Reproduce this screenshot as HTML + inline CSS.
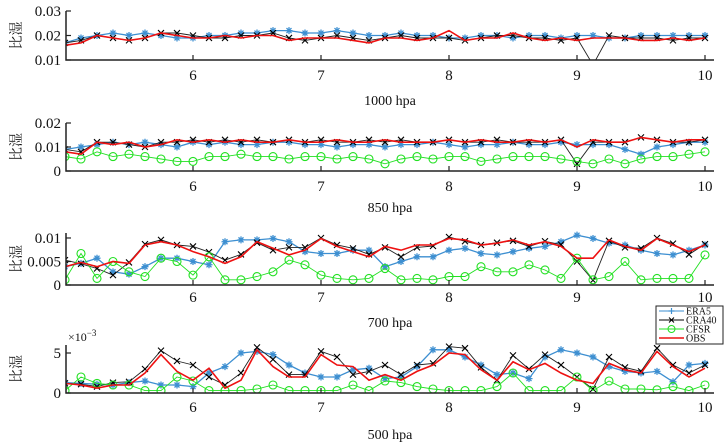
<!DOCTYPE html>
<html><head><meta charset="utf-8">
<style>
html,body{margin:0;padding:0;background:#fff;}
svg{display:block;font-family:"Liberation Serif","Noto Serif CJK SC",serif;}
</style></head>
<body>
<svg id="chart" width="728" height="443" viewBox="0 0 728 443" xmlns="http://www.w3.org/2000/svg"></svg>
<script>
// time axis values (day), 8 samples per unit
const times = [];
for (let i = 0; i <= 40; i++) times.push(5 + i * 0.125);
const xTicks = [6, 7, 8, 9, 10];
const seriesNames = ["ERA5", "CRA40", "CFSR", "OBS"];
const panelTitles = ["1000 hpa", "850 hpa", "700 hpa", "500 hpa"];

// values in units of 1e-3
const era5_1000 = [17,19,20,21,20,21,20,19,19,20,20,21,21,22,22,21,21,22,21,20,20,21,20,20,19,19,20,20,19,20,20,19,20,20,19,19,20,20,20,20,20];
const cra40_1000 = [17,18,20,19,18,19,21,21,20,19,19,20,20,21,19,18,19,20,19,18,19,20,19,19,19,18,19,20,20,19,19,18,19,8,20,19,19,19,18,19,19];
const obs_1000 = [16,17,20,19,18,19,21,20,19,19,20,19,20,20,18,19,19,19,18,17,19,19,18,19,22,18,19,19,21,19,18,19,18,19,19,19,18,18,19,18,19];

const era5_850 = [9,10,11,12,11,12,11,10,12,11,12,11,11,12,12,11,11,10,11,11,10,11,11,12,11,10,11,11,12,11,11,12,11,11,11,9,7,10,11,12,12];
const cra40_850 = [9,8,12,12,11,10,12,12,13,12,13,12,13,12,13,12,13,12,12,13,12,13,12,12,13,12,12,13,12,12,12,13,3,12,12,12,14,13,12,12,13];
const cfsr_850 = [6,5,8,6,7,6,5,4,4,6,6,7,6,6,5,6,6,5,6,5,3,5,6,5,6,6,4,5,6,6,6,5,4,3,5,3,5,6,6,7,8];
const obs_850 = [8,7,12,11,12,10,11,13,12,13,12,13,12,12,13,12,12,13,12,12,13,12,12,12,13,12,13,12,12,13,12,13,10,13,12,12,14,13,12,13,13];

const era5_700 = [3.9,4.6,5.7,2.8,2.3,3.9,5.7,5.7,5.0,4.3,9.2,9.6,9.6,9.9,9.2,7.1,6.7,6.7,7.4,7.4,3.9,5.0,6.0,6.0,7.4,7.8,6.7,6.4,7.1,7.8,8.2,9.2,10.6,9.9,8.9,8.5,7.4,6.7,6.4,7.4,8.5];
const cra40_700 = [5.3,4.5,3.5,2.1,4.8,8.7,9.6,8.5,8.2,7.0,5.3,6.5,9.0,7.4,8.0,8.0,10.0,8.5,7.8,6.5,8.0,6.0,8.0,8.3,10.2,9.3,8.5,9.0,9.4,8.2,9.3,8.6,5.0,1.0,9.4,8.0,7.8,10.0,8.8,6.5,8.7];
const cfsr_700 = [1.1,6.7,1.4,5.0,2.8,1.8,5.7,5.0,2.1,6.0,1.1,1.1,1.8,2.8,5.3,4.3,2.1,1.4,1.1,1.4,3.5,1.1,1.4,1.1,1.8,1.8,3.9,2.8,2.8,4.3,3.2,1.4,5.7,1.1,1.8,5.0,1.1,1.4,1.4,1.4,6.4];
const obs_700 = [3.9,4.8,3.9,5.0,4.6,8.5,9.2,8.5,7.1,6.0,4.6,6.0,9.2,7.8,6.4,7.4,9.9,8.2,7.1,6.0,8.2,7.4,8.5,8.5,9.9,9.6,8.5,8.9,9.6,8.5,9.2,8.2,5.7,5.7,9.6,8.2,7.4,9.9,8.5,7.1,8.5];

const era5_500 = [1.3,1.2,1.1,1.0,1.3,1.5,1.0,1.0,0.8,2.5,3.3,5.0,5.2,4.8,3.5,2.5,2.0,2.0,2.9,3.1,1.8,2.0,3.3,5.4,5.4,4.5,3.5,2.3,2.5,1.8,4.5,5.4,5.0,4.5,3.3,2.7,2.5,2.7,1.4,3.5,3.7];
const cra40_500 = [1.2,1.1,0.8,1.3,1.4,3.0,5.3,4.0,3.5,2.0,1.0,2.5,5.7,4.2,2.3,2.3,5.2,4.5,2.3,2.7,3.5,2.3,3.5,3.7,5.8,5.6,3.2,1.6,4.7,3.0,4.8,3.5,2.0,0.5,4.5,3.2,2.7,5.6,3.5,2.5,3.5];
const cfsr_500 = [0.3,2.0,1.2,1.0,1.0,0.3,0.3,2.0,1.5,0.3,0.3,0.3,0.5,1.0,0.3,0.3,0.3,0.3,1.0,0.3,1.5,1.3,0.8,0.5,0.3,0.3,0.3,0.8,2.5,0.3,0.3,0.3,2.0,0.3,1.5,0.5,0.5,0.4,0.8,0.3,1.0];
const obs_500 = [1.2,1.0,0.6,1.0,1.0,2.5,4.8,2.7,1.6,3.1,0.6,1.6,5.4,3.3,2.0,2.0,4.8,3.5,3.3,1.6,2.3,1.6,2.7,3.5,5.0,4.8,2.9,1.6,3.9,2.9,3.7,2.5,1.6,1.2,3.7,2.9,2.5,5.2,3.3,2.0,3.1];

const ticks1000 = ["0.01","0.02","0.03"], tickVals1000 = [10,20,30];
const ticks850 = ["0","0.01","0.02"], tickVals850 = [0,10,20];
const ticks700 = ["0","0.005","0.01"], tickVals700 = [0,5,10];
const ticks500 = ["0","5"], tickVals500 = [0,5];

const NS = "http://www.w3.org/2000/svg";
const svg = document.getElementById("chart");
function mk(tag, attrs, parent) {
  const e = document.createElementNS(NS, tag);
  for (const k in attrs) e.setAttribute(k, attrs[k]);
  (parent || svg).appendChild(e);
  return e;
}
const X0 = 66, X1 = 714;
function xs(t) { return 65 + (t - 5) * 128; }

const panels = [
  {top:11, vmin:10, vmax:30, bot:60, ticks:ticks1000, tv:tickVals1000, tickLab:75, title:100, era:era5_1000, cra:cra40_1000, cfsr:null, obs:obs_1000},
  {top:123, vmin:0, vmax:20, bot:171, ticks:ticks850, tv:tickVals850, tickLab:186, title:207, era:era5_850, cra:cra40_850, cfsr:cfsr_850, obs:obs_850},
  {top:233, vmin:0, vmax:11.06, bot:285, ticks:ticks700, tv:tickVals700, tickLab:297, title:322, era:era5_700, cra:cra40_700, cfsr:cfsr_700, obs:obs_700},
  {top:345, vmin:0, vmax:6, bot:393, ticks:ticks500, tv:tickVals500, tickLab:407, title:434, era:era5_500, cra:cra40_500, cfsr:cfsr_500, obs:obs_500}
];

panels.forEach((p, pi) => {
  const g = mk("g", {});
  
  
  const ys = v => p.bot - (v - p.vmin) / (p.vmax - p.vmin) * (p.bot - p.top);
  const clip = mk("clipPath", {id: "c" + pi}, g);
  mk("rect", {x: X0, y: p.top - 6, width: X1 - X0, height: p.bot - p.top + 6}, clip);
  const data = mk("g", {"clip-path": "url(#c" + pi + ")"}, g);
  function pts(arr) { return arr.map((v, i) => xs(times[i]).toFixed(1) + "," + ys(v).toFixed(1)).join(" "); }
  // ERA5
  const era = mk("polyline", {points: pts(p.era), fill: "none", stroke: "#3d8fd1", "stroke-width": 1.3}, data);
  
  
  p.era.forEach((v, i) => {
    const x = xs(times[i]), y = ys(v);
    const m = mk("path", {d: `M${x-3.5},${y}h7M${x},${y-3.5}v7M${x-2.5},${y-2.5}l5,5M${x-2.5},${y+2.5}l5,-5`, stroke: "#3d8fd1", "stroke-width": 1.3}, data);
    
    
  });
  // CRA40
  const cra = mk("polyline", {points: pts(p.cra), fill: "none", stroke: "#222", "stroke-width": 0.9}, data);
  
  
  p.cra.forEach((v, i) => {
    const x = xs(times[i]), y = ys(v);
    const m = mk("path", {d: `M${x-3},${y-3}l6,6M${x-3},${y+3}l6,-6`, stroke: "#000", "stroke-width": 1.1}, data);
    
    
  });
  // CFSR
  if (p.cfsr) {
    const cf = mk("polyline", {points: pts(p.cfsr), fill: "none", stroke: "#22e022", "stroke-width": 0.9}, data);
    
    
    p.cfsr.forEach((v, i) => {
      const m = mk("circle", {cx: xs(times[i]), cy: ys(v), r: 4, fill: "none", stroke: "#22e022", "stroke-width": 1.1}, data);
      
      
    });
  }
  // OBS
  const ob = mk("polyline", {points: pts(p.obs), fill: "none", stroke: "#ee1111", "stroke-width": 1.6}, data);
  
  
  // axes
  const ax = mk("path", {d: `M${X0},${p.top}V${p.bot}H${X1}`, fill: "none", stroke: "#222", "stroke-width": 1.5}, g);
  
  
  p.tv.forEach((v, k) => {
    const y = ys(v);
    mk("line", {x1: X0, x2: X0 + 5, y1: y, y2: y, stroke: "#222", "stroke-width": 1.2}, g);
    const t = mk("text", {x: X0 - 5, y: y + 5, "text-anchor": "end", "font-size": 15, fill: "#111"}, g);
    t.textContent = p.ticks[k];
    
    
  });
  xTicks.forEach(tv => {
    const x = xs(tv);
    mk("line", {x1: x, x2: x, y1: p.bot, y2: p.bot - 5, stroke: "#222", "stroke-width": 1.2}, g);
    const t = mk("text", {x: x, y: p.tickLab + 5, "text-anchor": "middle", "font-size": 15, fill: "#111"}, g);
    t.textContent = tv;
    
    
  });
  const yl = mk("text", {x: 0, y: 0, transform: `translate(21,${(p.top + p.bot) / 2}) rotate(-90)`, "text-anchor": "middle", "font-size": 14, fill: "#111"}, g);
  yl.textContent = "比湿";
  
  
  const tt = mk("text", {x: 390, y: p.title + 5, "text-anchor": "middle", "font-size": 14, fill: "#111"}, g);
  tt.textContent = panelTitles[pi];
  
  
});
// exponent label
const ex = mk("text", {x: 68, y: 341, "font-size": 12, fill: "#111"});
ex.innerHTML = '×10<tspan dy="-5" font-size="9">−3</tspan>';



// legend
const lg = mk("g", {});


mk("rect", {x: 656, y: 306, width: 67, height: 38, fill: "#fff", stroke: "#222", "stroke-width": 1}, lg);
const lcols = ["#3d8fd1", "#000", "#22e022", "#ee1111"];
seriesNames.forEach((n, k) => {
  const y = 311 + k * 9;
  const e = mk("g", {}, lg);
  
  
  mk("line", {x1: 659, x2: 684, y1: y, y2: y, stroke: lcols[k], "stroke-width": k === 3 ? 1.5 : 1}, e);
  if (k === 0) mk("path", {d: `M668.5,${y}h6M671.5,${y-3}v6`, stroke: lcols[0], "stroke-width": 1.2}, e);
  if (k === 1) mk("path", {d: `M669,${y-2.5}l5,5M669,${y+2.5}l5,-5`, stroke: "#000", "stroke-width": 1}, e);
  if (k === 2) mk("circle", {cx: 671.5, cy: y, r: 3.5, fill: "none", stroke: lcols[2]}, e);
  const t = mk("text", {x: 686, y: y + 3.5, "font-size": 10, fill: "#111"}, e);
  t.textContent = n;
});
</script>
</body></html>
